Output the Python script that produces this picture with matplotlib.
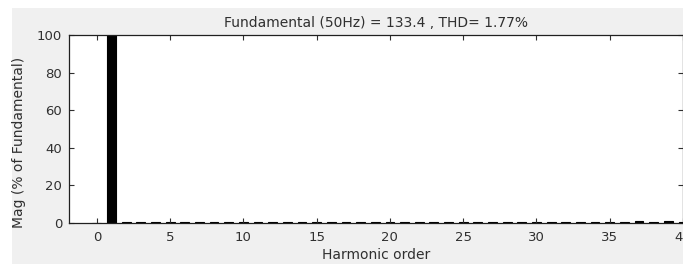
import matplotlib
matplotlib.use("Agg")
import matplotlib.pyplot as plt
from matplotlib.patches import Rectangle

# Data
harmonics = list(range(0, 41))
magnitudes = [0.0, 100.0] + [0.4] * 35 + [1.0, 0.4, 0.9, 0.4]
title_text = "Fundamental (50Hz) = 133.4 , THD= 1.77%"
xticks = [0, 5, 10, 15, 20, 25, 30, 35, 40]
yticks = [0, 20, 40, 60, 80, 100]

plt.rcParams['font.family'] = ['DejaVu Sans']

fig = plt.figure(figsize=(6.83, 2.64), dpi=100, facecolor='white')
fig.patches.append(Rectangle((12/683, 0), 1, 1 - 8/264, transform=fig.transFigure,
                             facecolor='#f0f0f0', edgecolor='none', zorder=-10))

ax = fig.add_axes([69/683, 1 - 222.7/264, 1 - 69/683, (222.7 - 35)/264])
ax.bar(harmonics, magnitudes, width=0.6, color='black', edgecolor='black', linewidth=0.8)
ax.set_xlim(-1.9, 40)
ax.set_ylim(0, 100)
ax.set_xticks(xticks)
ax.set_yticks(yticks)
ax.tick_params(direction='in', length=3.5, width=0.8, top=True, right=True,
               labelsize=9.5, colors='#303030', pad=5)
ax.tick_params(axis='x', pad=6)
for s in ax.spines.values():
    s.set_linewidth(0.9)
    s.set_color('#202020')
ax.set_title(title_text, fontsize=10, color='#303030', pad=6)
ax.set_xlabel("Harmonic order", fontsize=10, color='#303030', labelpad=3)
ax.set_ylabel("Mag (% of Fundamental)", fontsize=10, color='#303030')
ax.yaxis.set_label_coords(-0.07, 0.43)

fig.savefig("out.png", dpi=100, facecolor=fig.get_facecolor())
